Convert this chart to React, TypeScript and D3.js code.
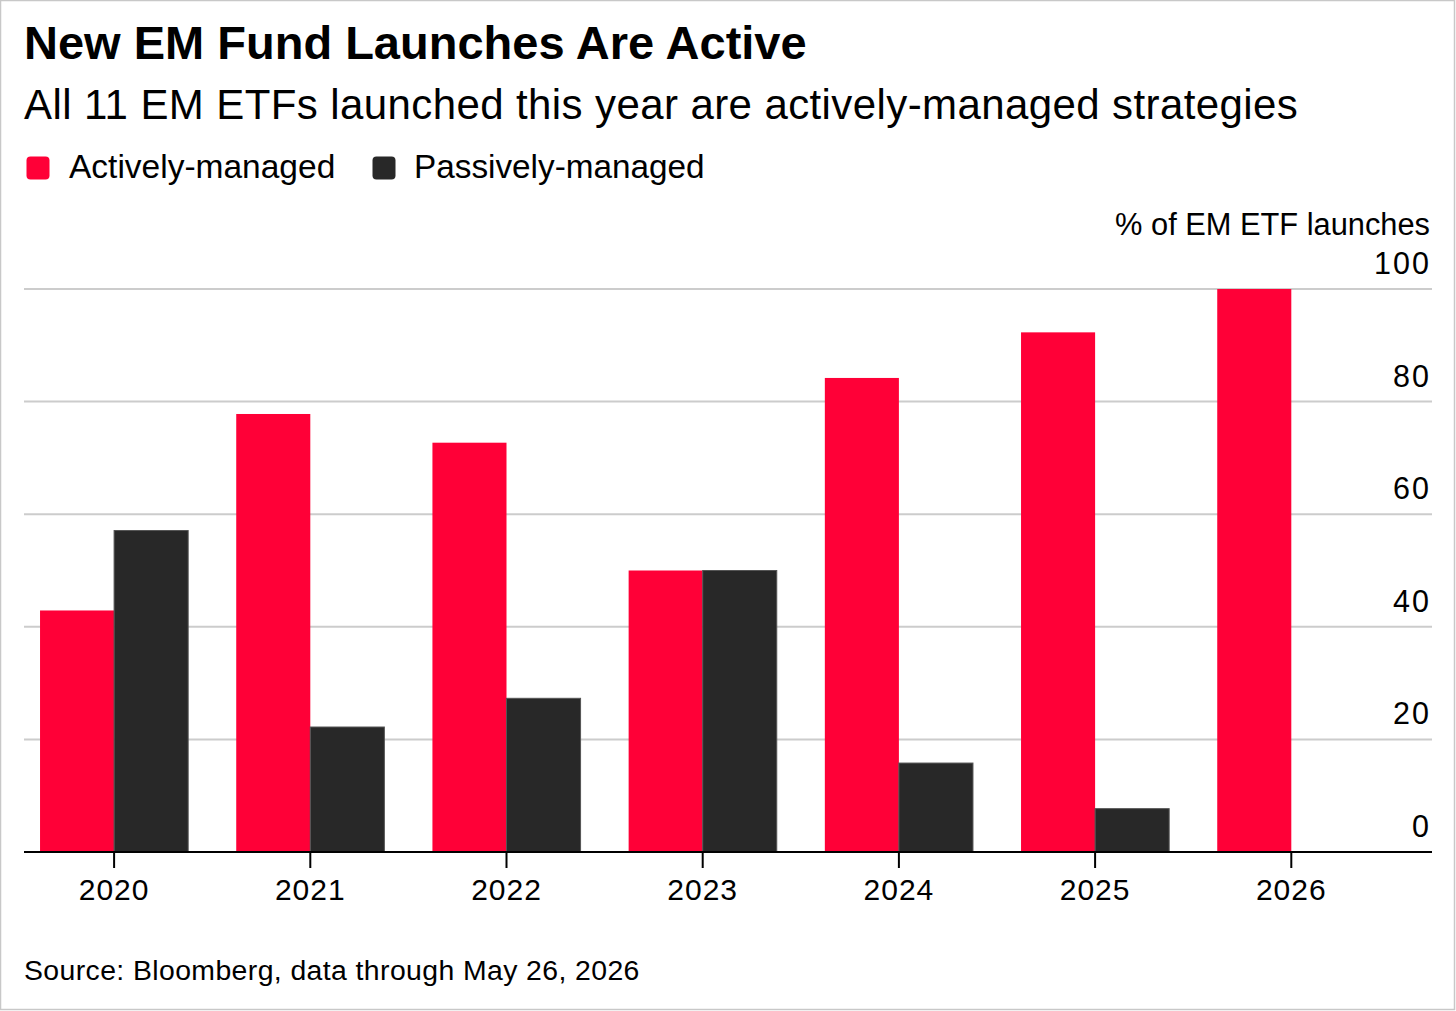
import React from "react";
import * as d3 from "d3";

const years = ["2020", "2021", "2022", "2023", "2024", "2025", "2026"];
const activeShare = [42.9, 77.8, 72.7, 50, 84.2, 92.3, 100];
const passiveShare = [57.1, 22.2, 27.3, 50, 15.8, 7.7, 0];
const yTicks = [0, 20, 40, 60, 80, 100];
const seriesKeys = ["active", "passive"];
const seriesLabels = ["Actively-managed", "Passively-managed"];
const seriesColors = ["#FF0037", "#282828"];

const W = 1456;
const H = 1011;
const FONT = "'Liberation Sans', Arial, Helvetica, sans-serif";

export default function App() {
  const x = d3.scaleBand<string>().domain(years).range([16, 1389.4]).paddingInner(0.245).paddingOuter(0.1225);
  const xs = d3.scaleBand<string>().domain(seriesKeys).range([0, x.bandwidth()]);
  const y = d3.scaleLinear().domain([0, 100]).range([852, 289]);
  const gridX0 = 24;
  const gridX1 = 1432;
  const rows = years.map((yr, i) => ({ yr, values: [activeShare[i], passiveShare[i]] }));

  return (
    <svg width={W} height={H} style={{ position: "absolute", left: 0, top: 0, fontFamily: FONT }}>
      <rect x={0.5} y={0.5} width={W - 2} height={H - 2} fill="#fff" stroke="#c8c8c8" strokeWidth={1.5} />
      <text x={24} y={59} fontSize={47} fontWeight={700} fill="#000">New EM Fund Launches Are Active</text>
      <text x={24} y={119} fontSize={42} letterSpacing={0.4} fill="#000">All 11 EM ETFs launched this year are actively-managed strategies</text>
      {/* legend */}
      <rect x={26.5} y={156.5} width={23} height={23} rx={4} fill={seriesColors[0]} />
      <text x={69} y={178} fontSize={33.5} fill="#000">{seriesLabels[0]}</text>
      <rect x={372.5} y={156.5} width={23} height={23} rx={4} fill={seriesColors[1]} />
      <text x={414} y={178} fontSize={33.3} fill="#000">{seriesLabels[1]}</text>

      <text x={1430} y={235} fontSize={30.8} textAnchor="end" fill="#000">% of EM ETF launches</text>

      {yTicks.map((t) => (
        <g key={t}>
          {t !== 0 && <line x1={gridX0} x2={gridX1} y1={y(t)} y2={y(t)} stroke="#cccccc" strokeWidth={2} />}
          <text x={1431} y={y(t) - 15} fontSize={30.5} letterSpacing={2} textAnchor="end" fill="#000">{t}</text>
        </g>
      ))}

      {rows.map((r) => (
        <g key={r.yr} transform={`translate(${x(r.yr)},0)`}>
          {r.values.map((v, j) =>
            v > 0 ? (
              <rect
                key={j}
                x={xs(seriesKeys[j])}
                y={y(v)}
                width={xs.bandwidth()}
                height={y(0) - y(v)}
                fill={seriesColors[j]}
                stroke={j === 1 ? "#555" : "none"}
                strokeWidth={j === 1 ? 1 : 0}
              />
            ) : null
          )}
        </g>
      ))}

      <line x1={gridX0} x2={gridX1} y1={y(0)} y2={y(0)} stroke="#000" strokeWidth={2} />
      {years.map((yr) => {
        const cx = (x(yr) as number) + x.bandwidth() / 2;
        return (
          <g key={yr}>
            <line x1={cx} x2={cx} y1={y(0)} y2={y(0) + 16} stroke="#000" strokeWidth={2} />
            <text x={cx} y={900} fontSize={30} letterSpacing={1} textAnchor="middle" fill="#000">{yr}</text>
          </g>
        );
      })}

      <text x={24} y={980} fontSize={28.4} letterSpacing={0.4} fill="#000">Source: Bloomberg, data through May 26, 2026</text>
    </svg>
  );
}
